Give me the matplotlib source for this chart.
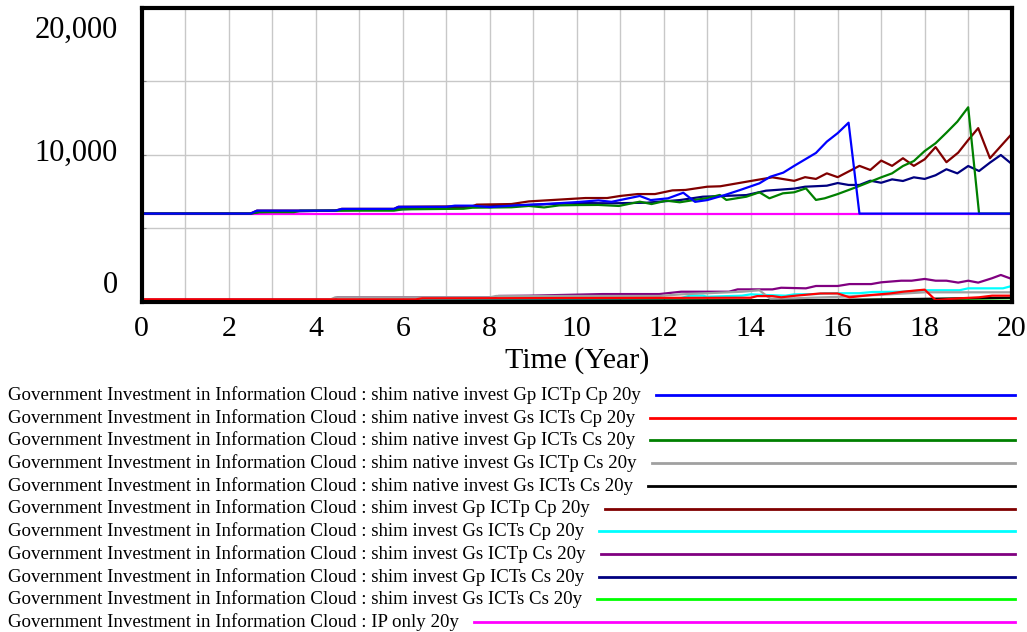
import matplotlib
matplotlib.use("agg")
import matplotlib.pyplot as plt
from matplotlib.lines import Line2D

# ---- data (time in years, value) ----
t_native_gp_ictp_cp = [0, 2.5, 2.65, 4.45, 4.6, 5.8, 5.9, 7.0, 7.2, 7.6, 8.0, 8.6, 9.2, 10.0, 10.5, 10.8, 11.45,
                       11.7, 12.1, 12.45, 12.72, 13.0, 13.4, 13.75, 14.2, 14.45, 14.75, 15.0, 15.5, 15.75, 16.0,
                       16.25, 16.5, 20]
v_native_gp_ictp_cp = [6000, 6000, 6200, 6200, 6320, 6320, 6460, 6460, 6540, 6540, 6440, 6560, 6640, 6780, 6900,
                       6800, 7200, 6920, 7040, 7420, 6800, 6920, 7260, 7600, 8060, 8510, 8790, 9250, 10130, 10900,
                       11480, 12190, 6000, 6000]

t_native_gs_icts_cp = [0, 6.3, 6.45, 10, 14.0, 14.15, 14.5, 14.7, 15.0, 15.6, 16.0, 16.27, 16.75, 17.2, 17.5, 18.0,
                       18.25, 18.8, 19.25, 19.55, 20]
v_native_gs_icts_cp = [160, 160, 230, 250, 270, 380, 380, 300, 400, 560, 560, 300, 450, 560, 680, 820, 110, 230,
                       300, 410, 410]

t_native_gp_icts_cs = [0, 2.5, 2.7, 3.5, 3.65, 5.8, 6.0, 7.4, 7.6, 8.5, 8.9, 9.25, 9.6, 10.0, 10.5, 10.97, 11.45,
                       11.72, 12.06, 12.37, 12.71, 12.98, 13.29, 13.44, 13.9, 14.2, 14.43, 14.74, 15.0, 15.27, 15.5,
                       15.7, 16.0, 16.5, 17.0, 17.25, 17.5, 17.75, 18.0, 18.25, 18.5, 18.75, 19.0, 19.25, 20]
v_native_gp_icts_cs = [6000, 6000, 6100, 6100, 6200, 6200, 6290, 6330, 6400, 6430, 6520, 6420, 6560, 6580, 6590,
                       6520, 6810, 6650, 6880, 6770, 6930, 7040, 7270, 6930, 7150, 7450, 7040, 7380, 7450, 7720,
                       6930, 7040, 7330, 7880, 8470, 8740, 9240, 9580, 10260, 10790, 11510, 12260, 13240, 6000, 6000]

t_native_gs_ictp_cs = [0, 4.3, 4.45, 8.0, 8.15, 11.9, 12.4, 13.8, 14.2, 14.45, 15.0, 16.0, 17.0, 18.0, 20]
v_native_gs_ictp_cs = [100, 100, 300, 300, 390, 390, 500, 680, 780, 200, 230, 330, 470, 640, 640]

t_native_gs_icts_cs = [0, 6.3, 6.45, 12, 16, 20]
v_native_gs_icts_cs = [30, 30, 60, 80, 120, 270]

t_invest_gp_ictp_cp = [0, 2.5, 2.65, 4.45, 4.6, 5.8, 5.9, 7.6, 7.7, 8.5, 8.9, 9.7, 10.2, 10.7, 11.0, 11.4, 11.8,
                       12.2, 12.5, 13.0, 13.3, 14.0, 14.5, 15.0, 15.25, 15.5, 15.75, 16.0, 16.5, 16.75, 17.0, 17.25,
                       17.5, 17.75, 18.0, 18.25, 18.5, 18.77, 19.0, 19.23, 19.5, 20]
v_invest_gp_ictp_cp = [6000, 6000, 6200, 6200, 6320, 6320, 6460, 6500, 6610, 6650, 6830, 6970, 7060, 7060, 7200,
                       7330, 7330, 7580, 7610, 7830, 7860, 8220, 8470, 8230, 8480, 8360, 8740, 8480, 9250, 8970,
                       9610, 9250, 9770, 9250, 9700, 10530, 9500, 10150, 11010, 11820, 9770, 11420]

t_invest_gs_icts_cp = [0, 8, 12.4, 12.6, 12.9, 13.0, 13.8, 14.0, 14.4, 14.8, 15.0, 15.5, 15.7, 16.5, 16.8, 17.5,
                       18.0, 18.8, 19.0, 19.8, 20]
v_invest_gs_icts_cp = [100, 150, 250, 410, 410, 340, 410, 500, 450, 410, 500, 520, 570, 580, 660, 680, 780, 780,
                       910, 910, 1070]

t_invest_gs_ictp_cs = [0, 4.4, 4.5, 8.1, 8.2, 8.9, 10.6, 11.9, 12.4, 13.5, 13.7, 14.5, 14.7, 15.27, 15.5, 16.0,
                       16.27, 16.77, 17.0, 17.46, 17.7, 18.0, 18.25, 18.5, 18.77, 19.0, 19.23, 19.54, 19.75, 20]
v_invest_gs_ictp_cs = [150, 150, 300, 300, 390, 410, 520, 520, 680, 680, 840, 840, 950, 910, 1070, 1070, 1200,
                       1200, 1320, 1430, 1430, 1550, 1430, 1430, 1300, 1430, 1300, 1590, 1820, 1550]

t_invest_gp_icts_cs = [0, 2.5, 2.7, 3.5, 5.0, 6.0, 7.0, 8.0, 9.0, 10.0, 10.8, 11.6, 12.37, 12.9, 13.9, 14.35,
                       15.0, 15.25, 15.75, 16.0, 16.25, 16.5, 16.75, 17.0, 17.25, 17.5, 17.75, 18.0, 18.25, 18.5,
                       18.75, 19.0, 19.25, 19.5, 19.75, 20]
v_invest_gp_icts_cs = [6000, 6000, 6100, 6150, 6250, 6300, 6400, 6500, 6600, 6720, 6700, 6740, 6920, 7150, 7260,
                       7560, 7700, 7830, 7900, 8080, 7950, 7950, 8240, 8100, 8330, 8220, 8470, 8360, 8610, 9020,
                       8740, 9240, 8900, 9470, 9990, 9380]

t_invest_gs_icts_cs = [0, 6.3, 6.45, 12, 16, 20]
v_invest_gs_icts_cs = [20, 20, 50, 70, 100, 240]

t_ip_only = [0, 20]
v_ip_only = [6000, 6000]

prefix = "Government Investment in Information Cloud : "
labels = [
    "shim native invest Gp ICTp Cp 20y",
    "shim native invest Gs ICTs Cp 20y",
    "shim native invest Gp ICTs Cs 20y",
    "shim native invest Gs ICTp Cs 20y",
    "shim native invest Gs ICTs Cs 20y",
    "shim invest Gp ICTp Cp 20y",
    "shim invest Gs ICTs Cp 20y",
    "shim invest Gs ICTp Cs 20y",
    "shim invest Gp ICTs Cs 20y",
    "shim invest Gs ICTs Cs 20y",
    "IP only 20y",
]
series = [
    (t_native_gp_ictp_cp, v_native_gp_ictp_cp),
    (t_native_gs_icts_cp, v_native_gs_icts_cp),
    (t_native_gp_icts_cs, v_native_gp_icts_cs),
    (t_native_gs_ictp_cs, v_native_gs_ictp_cs),
    (t_native_gs_icts_cs, v_native_gs_icts_cs),
    (t_invest_gp_ictp_cp, v_invest_gp_ictp_cp),
    (t_invest_gs_icts_cp, v_invest_gs_icts_cp),
    (t_invest_gs_ictp_cs, v_invest_gs_ictp_cs),
    (t_invest_gp_icts_cs, v_invest_gp_icts_cs),
    (t_invest_gs_icts_cs, v_invest_gs_icts_cs),
    (t_ip_only, v_ip_only),
]
colors = ['#0000ff', '#ff0000', '#008000', '#a0a0a0', '#000000', '#800000',
          '#00ffff', '#800080', '#000080', '#00ff00', '#ff00ff']

y_grid = [0, 5000, 10000, 15000, 20000]
y_label_vals = [0, 10000, 20000]
y_label_text = ['0', '10,000', '20,000']
x_major = list(range(0, 21, 2))
x_minor = list(range(1, 20, 2))

plt.rcParams['font.family'] = ['Liberation Serif', 'DejaVu Serif']

W, H = 1027, 632
fig = plt.figure(figsize=(W / 100, H / 100), dpi=100)
ax = fig.add_axes([141.7 / W, 1 - 301.7 / H, 870 / W, 293.7 / H])

# first series on top, like the original tool draws it
for idx in reversed(range(len(series))):
    t, v = series[idx]
    ax.plot(t, v, color=colors[idx], lw=1.6, zorder=3 + len(series) - idx)

ax.set_xlim(0, 20)
ax.set_ylim(0, 20000)
ax.set_xticks(x_major)
ax.set_xticks(x_minor, minor=True)
ax.set_yticks(y_grid)
ax.set_yticklabels([])
ax.grid(True, which='both', color='#c8c8c8', lw=1, zorder=0)
ax.tick_params(axis='both', which='both', direction='in', length=3, width=0.8, color='#888888')
ax.tick_params(axis='x', labelsize=21.5, pad=10)
for sp in ax.spines.values():
    sp.set_linewidth(3)
    sp.set_zorder(20)
ax.set_xlabel("Time (Year)", fontsize=21.5, labelpad=4)

# y labels: top one pushed down, bottom one pushed up (inside the axis range)
y_offsets = [12, 1, -16]
for val, lab, off in zip(y_label_vals, y_label_text, y_offsets):
    ax.annotate(lab, xy=(0, val), xycoords=('axes fraction', 'data'), xytext=(-17, off),
                textcoords='offset points', ha='right', va='center', fontsize=22)

# legend as rows of text with a sample line after each
fig.canvas.draw()
renderer = fig.canvas.get_renderer()
row0, row_step = 395, 22.7
for i, lab in enumerate(labels):
    yp = row0 + i * row_step
    txt = fig.text(8 / W, 1 - yp / H, prefix + lab, fontsize=13.6, ha='left', va='center')
    bb = txt.get_window_extent(renderer=renderer)
    x0 = (bb.x1 + 15) / W
    fig.add_artist(Line2D([x0, 1015 / W], [1 - yp / H, 1 - yp / H], transform=fig.transFigure,
                          color=colors[i], lw=2))

fig.savefig("out.png", dpi=100)
